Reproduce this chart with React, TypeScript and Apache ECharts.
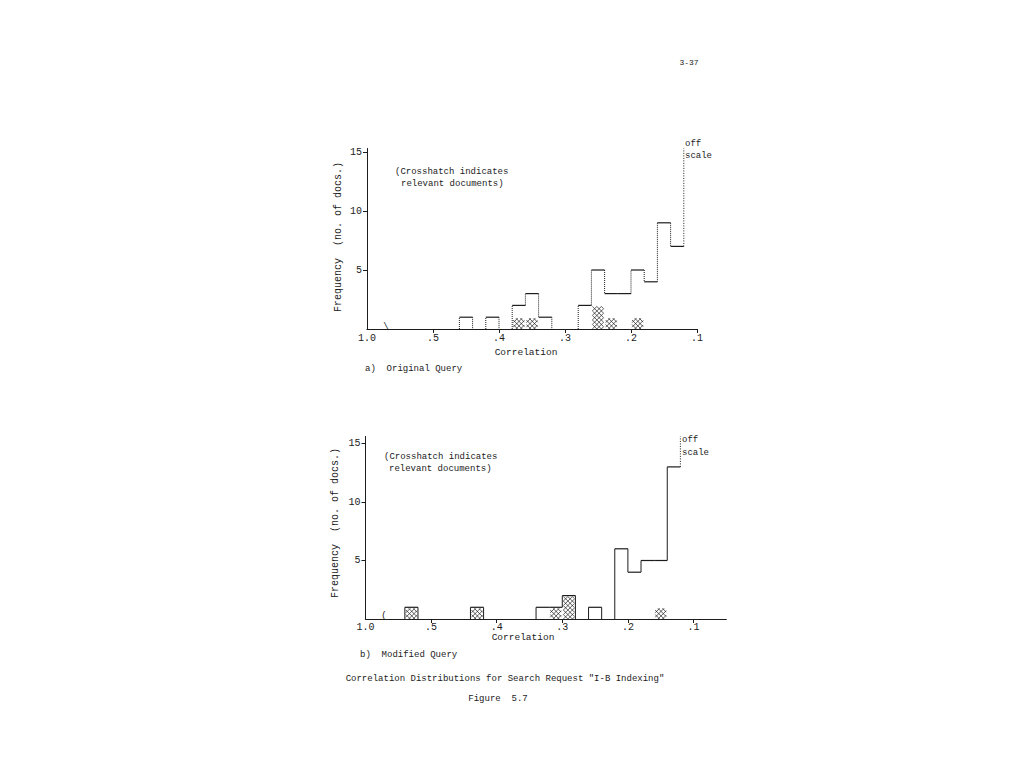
import React, { useEffect, useRef } from "react";
import * as echarts from "echarts";

// ---- a) Original Query ----
const aBinHigh = [0.46, 0.42, 0.38, 0.36, 0.34, 0.28, 0.26, 0.24, 0.22, 0.2, 0.18, 0.16, 0.14];
const aBinLow = [0.44, 0.4, 0.36, 0.34, 0.32, 0.26, 0.24, 0.22, 0.2, 0.18, 0.16, 0.14, 0.12];
const aCount = [1, 1, 2, 3, 1, 2, 5, 3, 3, 5, 4, 9, 7];
const aRelevant = [0, 0, 1, 1, 0, 0, 2, 1, 0, 1, 0, 0, 0];

// ---- b) Modified Query ----
const bBinHigh = [0.54, 0.44, 0.34, 0.32, 0.3, 0.26, 0.22, 0.2, 0.18, 0.16, 0.14];
const bBinLow = [0.52, 0.42, 0.32, 0.3, 0.28, 0.24, 0.2, 0.18, 0.16, 0.14, 0.12];
const bCount = [1, 1, 1, 1, 2, 1, 6, 4, 5, 5, 13];
const bRelevant = [1, 1, 0, 1, 2, 0, 0, 0, 0, 1, 0];

// axis ticks
const xTickValues = [0.6, 0.5, 0.4, 0.3, 0.2, 0.1];
const xTickLabels = ["1.0", ".5", ".4", ".3", ".2", ".1"];
const yTickValues = [5, 10, 15];
const yTickLabels = ["5", "10", "15"];

const INK = "#1c1c1c";
const MONO = "'Liberation Mono', 'DejaVu Sans Mono', monospace";

function makeOutline(hi: number[], lo: number[], cnt: number[], yMax: number, dottedV: boolean) {
  return (params: any, api: any) => {
    const i = params.dataIndex;
    const pHi = api.coord([hi[i], cnt[i]]);
    const pLo = api.coord([lo[i], 0]);
    const xl = Math.min(pHi[0], pLo[0]);
    const xr = Math.max(pHi[0], pLo[0]);
    const yTop = pHi[1];
    const y0 = pLo[1];
    const vStyle: any = { stroke: INK, lineWidth: 1, lineDash: dottedV ? [1, 1] : null };
    const hStyle: any = { stroke: INK, lineWidth: 1.2 };
    const children: any[] = [];
    children.push({ type: "line", shape: { x1: xl, y1: yTop, x2: xr, y2: yTop }, style: hStyle });
    const prevAdj = i > 0 && Math.abs(lo[i - 1] - hi[i]) < 1e-6;
    const nextAdj = i < hi.length - 1 && Math.abs(hi[i + 1] - lo[i]) < 1e-6;
    const yPrev = prevAdj ? api.coord([hi[i], cnt[i - 1]])[1] : y0;
    children.push({ type: "line", shape: { x1: xl, y1: yPrev, x2: xl, y2: yTop }, style: vStyle });
    if (i === hi.length - 1) {
      // off scale: the next bin rises beyond the top of the axis
      const yOff = api.coord([lo[i], yMax])[1];
      children.push({
        type: "line",
        shape: { x1: xr, y1: yTop, x2: xr, y2: yOff },
        style: { stroke: INK, lineWidth: 1, lineDash: [1, 1.5] },
      });
    } else if (!nextAdj) {
      children.push({ type: "line", shape: { x1: xr, y1: yTop, x2: xr, y2: y0 }, style: vStyle });
    }
    return { type: "group", children };
  };
}

function hatchLines(x0: number, y0: number, w: number, h: number, step: number) {
  const out: any[] = [];
  const st = { stroke: INK, lineWidth: 0.7 };
  // direction x - y = c
  for (let c = x0 - (y0 + h); c <= x0 + w - y0; c += step) {
    const xa = Math.max(x0, y0 + c);
    const xb = Math.min(x0 + w, y0 + h + c);
    if (xb > xa) out.push({ type: "line", shape: { x1: xa, y1: xa - c, x2: xb, y2: xb - c }, style: st });
  }
  // direction x + y = c
  for (let c = x0 + y0; c <= x0 + w + y0 + h; c += step) {
    const xa = Math.max(x0, c - y0 - h);
    const xb = Math.min(x0 + w, c - y0);
    if (xb > xa) out.push({ type: "line", shape: { x1: xa, y1: c - xa, x2: xb, y2: c - xb }, style: st });
  }
  return out;
}

function makeHatch() {
  return (params: any, api: any) => {
    const pHi = api.coord([api.value(0), api.value(2)]);
    const pLo = api.coord([api.value(1), 0]);
    const xl = Math.min(pHi[0], pLo[0]);
    const xr = Math.max(pHi[0], pLo[0]);
    const yt = pHi[1];
    const yb = pLo[1];
    return {
      type: "group",
      children: hatchLines(xl + 1, yt + 1, xr - xl - 2, yb - yt - 1, 4.5),
    };
  };
}

function xAxisFor(gridIndex: number, min: number, margin: number) {
  return {
    gridIndex,
    type: "value",
    inverse: true,
    min,
    max: 0.6,
    axisLine: { show: true, lineStyle: { color: INK, width: 1.2 } },
    axisTick: { show: true, length: 4, customValues: xTickValues.slice(1), lineStyle: { color: INK } },
    axisLabel: {
      show: true,
      customValues: xTickValues,
      formatter: (v: number) => {
        const k = xTickValues.findIndex((t) => Math.abs(t - v) < 1e-6);
        return k >= 0 ? xTickLabels[k] : "";
      },
      margin,
      color: INK,
      fontFamily: MONO,
      fontSize: 10,
      showMinLabel: true,
      showMaxLabel: true,
    },
    splitLine: { show: false },
  };
}

function yAxisFor(gridIndex: number, max: number) {
  return {
    gridIndex,
    type: "value",
    min: 0,
    max,
    axisLine: { show: true, onZero: false, lineStyle: { color: INK, width: 1 } },
    axisTick: { show: true, length: 4, customValues: yTickValues, lineStyle: { color: INK } },
    axisLabel: {
      show: true,
      customValues: yTickValues,
      formatter: (v: number) => {
        const k = yTickValues.indexOf(v);
        return k >= 0 ? yTickLabels[k] : "";
      },
      margin: 5,
      color: INK,
      fontFamily: MONO,
      fontSize: 10,
    },
    splitLine: { show: false },
  };
}

function txt(x: number, y: number, text: string, opts: any = {}) {
  return {
    type: "text",
    x,
    y,
    rotation: opts.rotation || 0,
    style: {
      text,
      fill: INK,
      font: `${opts.size || 9}px ${MONO}`,
      textAlign: opts.align || "left",
      textVerticalAlign: "middle",
    },
  };
}

export default function App() {
  const ref = useRef<HTMLDivElement>(null);
  useEffect(() => {
    if (!ref.current) return;
    const chart = echarts.init(ref.current, null, { renderer: "svg" });
    const A_YMAX = 15.3;
    const B_YMAX = 15.6;
    const aData = aBinHigh.map((h, i) => [h, aBinLow[i], aCount[i]]);
    const bData = bBinHigh.map((h, i) => [h, bBinLow[i], bCount[i]]);
    const aHatch = aBinHigh.map((h, i) => [h, aBinLow[i], aRelevant[i]]).filter((d) => d[2] > 0);
    const bHatch = bBinHigh.map((h, i) => [h, bBinLow[i], bRelevant[i]]).filter((d) => d[2] > 0);

    chart.setOption({
      animation: false,
      backgroundColor: "#ffffff",
      grid: [
        { left: 367, top: 329 - A_YMAX * 11.8, width: 330, height: A_YMAX * 11.8, outerBoundsMode: "none" },
        { left: 365.5, top: 619 - B_YMAX * 11.7, width: 360.8, height: B_YMAX * 11.7, outerBoundsMode: "none" },
      ],
      xAxis: [xAxisFor(0, 0.1, 4), xAxisFor(1, 0.05, 3)],
      yAxis: [yAxisFor(0, A_YMAX), yAxisFor(1, B_YMAX)],
      series: [
        {
          type: "custom",
          xAxisIndex: 0,
          yAxisIndex: 0,
          data: aHatch,
          encode: { x: [0, 1], y: 2 },
          renderItem: makeHatch(),
          clip: false,
        },
        {
          type: "custom",
          xAxisIndex: 0,
          yAxisIndex: 0,
          data: aData,
          encode: { x: [0, 1], y: 2 },
          renderItem: makeOutline(aBinHigh, aBinLow, aCount, A_YMAX, true),
          clip: false,
        },
        {
          type: "custom",
          xAxisIndex: 1,
          yAxisIndex: 1,
          data: bHatch,
          encode: { x: [0, 1], y: 2 },
          renderItem: makeHatch(),
          clip: false,
        },
        {
          type: "custom",
          xAxisIndex: 1,
          yAxisIndex: 1,
          data: bData,
          encode: { x: [0, 1], y: 2 },
          renderItem: makeOutline(bBinHigh, bBinLow, bCount, B_YMAX, false),
          clip: false,
        },
      ],
      graphic: [
        txt(689, 62, "3-37", { size: 8, align: "center" }),
        // chart a
        txt(395, 172, "(Crosshatch indicates", { size: 9 }),
        txt(401, 184, "relevant documents)", { size: 9 }),
        txt(685, 144, "off", { size: 9 }),
        txt(685, 156, "scale", { size: 9 }),
        txt(386, 327, "\\", { size: 9, align: "center" }),
        txt(526, 352, "Correlation", { size: 9.5, align: "center" }),
        txt(365, 369, "a)  Original Query", { size: 9 }),
        txt(338, 237, "Frequency  (no. of docs.)", { size: 10, align: "center", rotation: Math.PI / 2 }),
        // chart b
        txt(384, 457, "(Crosshatch indicates", { size: 9 }),
        txt(389, 469, "relevant documents)", { size: 9 }),
        txt(682, 440, "off", { size: 9 }),
        txt(682, 453, "scale", { size: 9 }),
        txt(384, 616, "(", { size: 9, align: "center" }),
        txt(523, 637, "Correlation", { size: 9.5, align: "center" }),
        txt(360, 655, "b)  Modified Query", { size: 9 }),
        txt(335, 523, "Frequency  (no. of docs.)", { size: 10, align: "center", rotation: Math.PI / 2 }),
        // caption
        txt(505, 679, "Correlation Distributions for Search Request \"I-B Indexing\"", { size: 9, align: "center" }),
        txt(498, 699, "Figure  5.7", { size: 9, align: "center" }),
      ],
    });
    return () => chart.dispose();
  }, []);
  return (
    <div
      ref={ref}
      style={{ position: "fixed", left: 0, top: 0, width: 1024, height: 768, background: "#fff" }}
    />
  );
}
